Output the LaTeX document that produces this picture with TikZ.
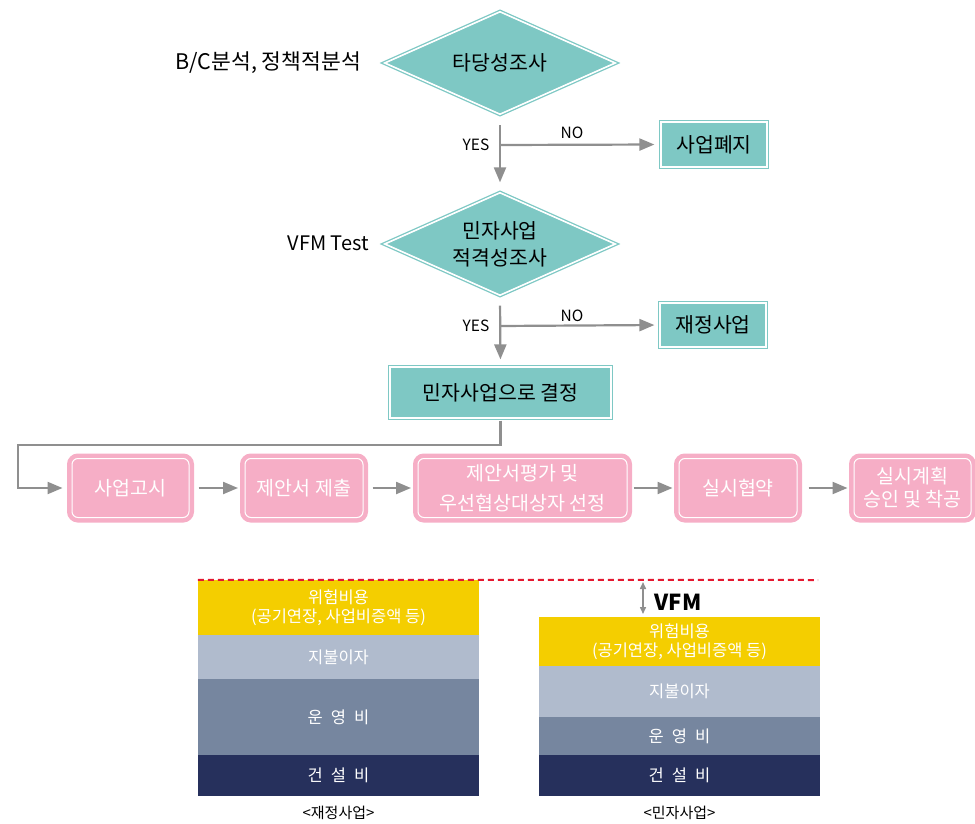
\documentclass[tikz,border=0pt]{standalone}
\usepackage{fontspec}
\setmainfont{Noto Sans CJK KR}
\newfontfamily\barfont{Noto Sans CJK KR}[WordSpace=2.2]
\usetikzlibrary{shapes.geometric,arrows.meta,calc}
\definecolor{tealc}{HTML}{7EC8C4}
\definecolor{pinkc}{HTML}{F6AEC6}
\definecolor{arrc}{HTML}{8F8F8F}
\definecolor{yelc}{HTML}{F4CE00}
\definecolor{lightc}{HTML}{B0BBCD}
\definecolor{midc}{HTML}{76869F}
\definecolor{darkc}{HTML}{26305C}
\definecolor{redc}{HTML}{E5172F}
\begin{document}
\begin{tikzpicture}[x=1pt,y=-1pt,
  decision/.style={diamond, shape aspect=2.2, fill=tealc, draw=tealc, line width=1.3pt, double=white, double distance=1.6pt,
    minimum width=231pt, minimum height=103pt, inner sep=0pt, align=center,
    font=\fontsize{20.5}{27}\selectfont},
  tealbox/.style={rectangle, fill=tealc, draw=tealc, line width=1.2pt, double=white, double distance=1.6pt,
    inner sep=0pt, font=\fontsize{20.5}{24}\selectfont},
  pinkbox/.style={rectangle, rounded corners=6pt, fill=pinkc, draw=white, line width=1pt,
    preaction={draw=pinkc, line width=10pt}, minimum height=59pt, inner sep=0pt,
    text=white, align=center, font=\fontsize{19.5}{30}\selectfont},
  flow/.style={draw=arrc, line width=2.2pt, -{Triangle[length=15pt,width=12pt]}},
  lbl/.style={inner sep=0pt, font=\fontsize{21.5}{24}\selectfont},
  yn/.style={inner sep=0pt, font=\fontsize{15.5}{18}\selectfont},
  bar/.style={rectangle, inner sep=0pt, minimum width=281pt, text=white, align=center,
    font=\fontsize{16.5}{19}\selectfont},
  widebar/.style={bar, font=\barfont\fontsize{16.5}{19}\selectfont},
  captxt/.style={inner sep=0pt, font=\fontsize{15}{18}\selectfont}
]
\useasboundingbox (0,0) rectangle (975,824);

% --- decisions ---
\node[decision] (d1) at (500,63) {타당성조사};
\node[lbl, anchor=east] (l1) at (361,63) {B/C분석, 정책적분석};
\node[tealbox, minimum width=106pt, minimum height=45pt] (p1) at (714,144.5) {사업폐지};
\coordinate (b1) at (500,145);

\node[decision] (d2) at (500,244) {민자사업\\적격성조사};
\node[lbl, anchor=east, font=\fontsize{20}{24}\selectfont] (l2) at (369,243) {VFM Test};
\node[tealbox, minimum width=106pt, minimum height=44pt] (p2) at (713,325) {재정사업};
\coordinate (b2) at (500,326);

\node[tealbox, minimum width=221pt, minimum height=51pt] (r2) at (500.5,392.5) {민자사업으로 결정};

\draw[flow, shorten <=10pt, shorten >=9.5pt] (d1.south) -- (d2.north);
\draw[flow, shorten >=6pt] (b1) -- (p1.west);
\node[yn] (y1) at (476,145) {YES};
\node[yn] (n1) at (572,133) {NO};

\draw[flow, shorten <=9.5pt, shorten >=7pt] (d2.south) -- (r2.north);
\draw[flow, shorten >=5pt] (b2) -- (p2.west);
\node[yn] (y2) at (476,326) {YES};
\node[yn] (n2) at (572,316) {NO};

% --- process row ---
\node[pinkbox, minimum width=117pt] (q1) at (130.5,488) {사업고시};
\node[pinkbox, minimum width=118pt] (q2) at (304,488) {제안서 제출};
\node[pinkbox, minimum width=209pt] (q3) at (522.5,488) {제안서평가 및\\우선협상대상자 선정};
\node[pinkbox, minimum width=118pt] (q4) at (738,488) {실시협약};
\node[pinkbox, minimum width=117pt, font=\fontsize{19.5}{23}\selectfont] (q5) at (912.5,488) {실시계획\\승인 및 착공};

\coordinate (c1) at (18,445);
\draw[flow, shorten <=2pt, shorten >=9pt] (r2.south) |- (c1) |- (q1.west);
\draw[flow, shorten <=9pt, shorten >=6.5pt] (q1.east) -- (q2.west);
\draw[flow, shorten <=9pt, shorten >=6.5pt] (q2.east) -- (q3.west);
\draw[flow, shorten <=6pt, shorten >=6pt] (q3.east) -- (q4.west);
\draw[flow, shorten <=11pt, shorten >=6pt] (q4.east) -- (q5.west);

% --- cost bars ---
\node[bar, fill=yelc, minimum height=55pt] (ly) at (338.5,607.5) {위험비용\\(공기연장, 사업비증액 등)};
\node[bar, fill=lightc, minimum height=44pt] (ll) at (338.5,657) {지불이자};
\node[widebar, fill=midc, minimum height=76pt] (lm) at (338.5,717) {운 영 비};
\node[widebar, fill=darkc, minimum height=41pt] (ld) at (338.5,775.5) {건 설 비};
\node[captxt] (lc) at (338.5,813) {<재정사업>};

\node[bar, fill=yelc, minimum height=49pt] (ry) at (679.5,641.5) {위험비용\\(공기연장, 사업비증액 등)};
\node[bar, fill=lightc, minimum height=51pt] (rl) at (679.5,691.5) {지불이자};
\node[widebar, fill=midc, minimum height=38pt] (rm) at (679.5,736) {운 영 비};
\node[widebar, fill=darkc, minimum height=41pt] (rd) at (679.5,775.5) {건 설 비};
\node[captxt] (rc) at (679.5,813) {<민자사업>};

\coordinate (dashend) at (818,580);
\draw[redc, line width=2pt, dash pattern=on 6pt off 4pt] (ly.north west) -- (dashend);

\coordinate (v1) at (643,582);
\coordinate (v2) at (643,614);
\draw[draw=arrc, line width=1.5pt, {Triangle[length=7pt,width=6pt]}-{Triangle[length=7pt,width=6pt]}] (v1) -- (v2);
\node[inner sep=0pt, font=\fontsize{22}{26}\selectfont\bfseries] (vfm) at (678,602) {VFM};
\end{tikzpicture}
\end{document}
